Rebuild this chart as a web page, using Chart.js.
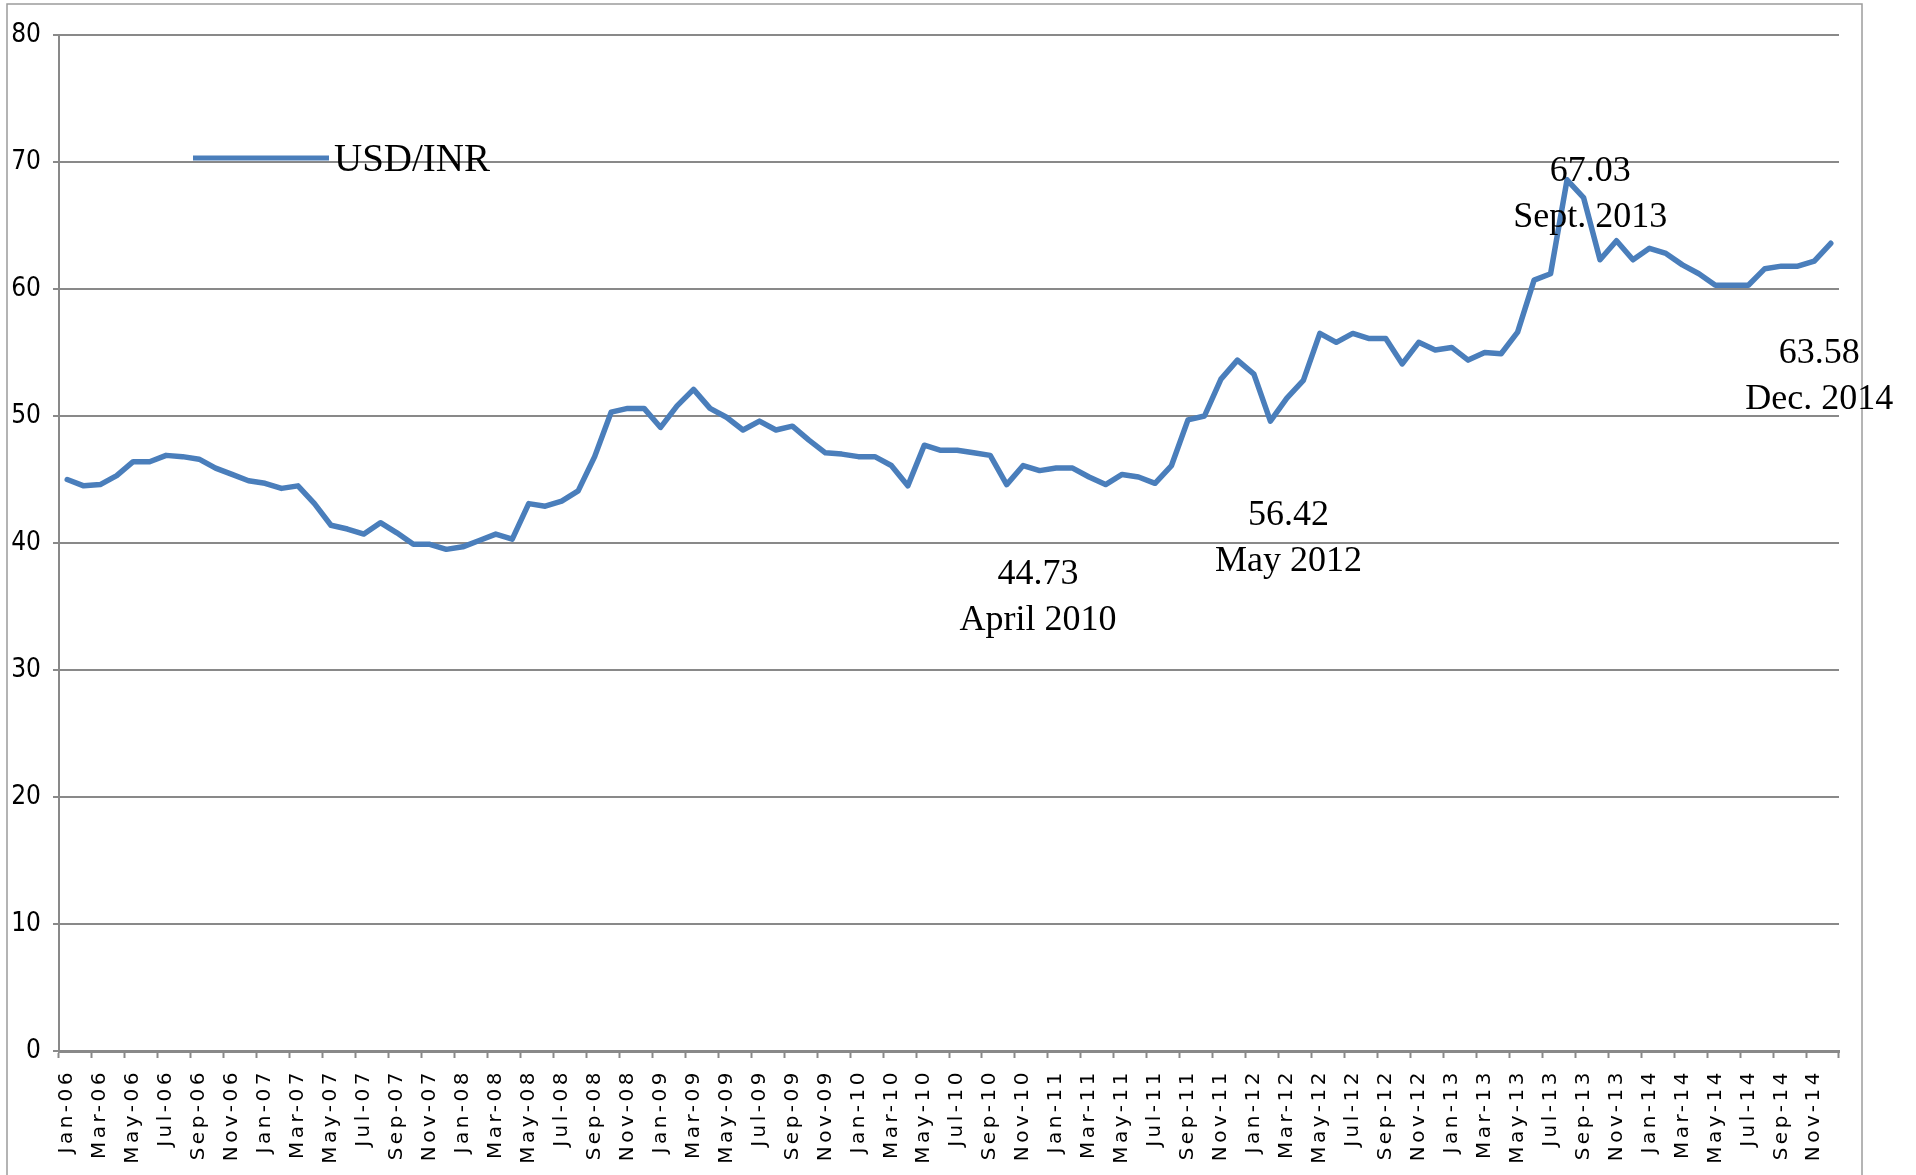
<!DOCTYPE html>
<html>
<head>
<meta charset="utf-8">
<script src="https://cdn.jsdelivr.net/npm/chart.js@4.4.1/dist/chart.umd.min.js"></script>
<style>
  html, body { margin: 0; padding: 0; background: #fff; }
  #chartBox { width: 1916px; height: 1175px; position: relative; }
</style>
</head>
<body>
<div id="chartBox"><canvas id="usdInrChart"></canvas></div>
<script>
// months and years for the category axis
const monthNames = ["Jan", "Feb", "Mar", "Apr", "May", "Jun", "Jul", "Aug", "Sep", "Oct", "Nov", "Dec"];
const yearSuffixes = ["06", "07", "08", "09", "10", "11", "12", "13", "14"];

// monthly USD/INR
const usdInr2006 = [45.0, 44.5, 44.6, 45.3, 46.4, 46.4, 46.9, 46.8, 46.6, 45.9, 45.4, 44.9];
const usdInr2007 = [44.7, 44.3, 44.5, 43.1, 41.4, 41.1, 40.7, 41.6, 40.8, 39.9, 39.9, 39.5];
const usdInr2008 = [39.7, 40.2, 40.7, 40.3, 43.1, 42.9, 43.3, 44.1, 46.8, 50.3, 50.6, 50.6];
const usdInr2009 = [49.1, 50.8, 52.1, 50.6, 49.9, 48.9, 49.6, 48.9, 49.2, 48.1, 47.1, 47.0];
const usdInr2010 = [46.8, 46.8, 46.1, 44.5, 47.7, 47.3, 47.3, 47.1, 46.9, 44.6, 46.1, 45.7];
const usdInr2011 = [45.9, 45.9, 45.2, 44.6, 45.4, 45.2, 44.7, 46.1, 49.7, 50.0, 52.9, 54.4];
const usdInr2012 = [53.3, 49.6, 51.4, 52.8, 56.5, 55.8, 56.5, 56.1, 56.1, 54.1, 55.8, 55.2];
const usdInr2013 = [55.4, 54.4, 55.0, 54.9, 56.6, 60.7, 61.2, 68.6, 67.2, 62.3, 63.8, 62.3];
const usdInr2014 = [63.2, 62.8, 61.9, 61.2, 60.3, 60.3, 60.3, 61.6, 61.8, 61.8, 62.2, 63.6];

const yTickValues = [0, 10, 20, 30, 40, 50, 60, 70, 80];

// text notes: lines, and where they sit (category index, value of first baseline)
const noteLines = [["67.03", "Sept. 2013"], ["63.58", "Dec. 2014"], ["56.42", "May 2012"], ["44.73", "April 2010"]];
const noteAnchors = [[92.4, 68.5], [106.3, 54.2], [74.1, 41.4], [58.9, 36.8]];

const labels = [];
yearSuffixes.forEach(y => monthNames.forEach(m => labels.push(m + "-" + y)));
const usdInr = [].concat(usdInr2006, usdInr2007, usdInr2008, usdInr2009, usdInr2010,
  usdInr2011, usdInr2012, usdInr2013, usdInr2014);

const axisGray = "#898989";
const lineBlue = "#4a7ebb";

const decorPlugin = {
  id: "decor",
  beforeDraw(chart) {
    // x labels in the original are spaced out
    chart.ctx.letterSpacing = "3.5px";
  },
  beforeDatasetsDraw(chart) {
    chart.ctx.letterSpacing = "0px";
  },
  afterDraw(chart) {
    const ctx = chart.ctx;
    const area = chart.chartArea;
    const xs = chart.scales.x, ys = chart.scales.y;
    ctx.save();
    ctx.letterSpacing = "0px";

    // outer frame
    ctx.strokeStyle = "#9c9c9c";
    ctx.lineWidth = 1.5;
    ctx.strokeRect(7, 4, 1855, 1300);

    // legend inside the plot
    const ds = chart.data.datasets[0];
    const ly = area.top + 123;
    ctx.strokeStyle = ds.borderColor;
    ctx.lineWidth = 5;
    ctx.beginPath();
    ctx.moveTo(area.left + 134, ly);
    ctx.lineTo(area.left + 270, ly);
    ctx.stroke();
    ctx.fillStyle = "#000";
    ctx.font = '39px "Liberation Serif", serif';
    ctx.textBaseline = "alphabetic";
    ctx.textAlign = "left";
    ctx.fillText(ds.label, area.left + 275, ly + 13);

    // notes
    ctx.font = '36px "Liberation Serif", serif';
    ctx.textAlign = "center";
    noteLines.forEach((lines, k) => {
      const px = xs.getPixelForValue(noteAnchors[k][0]);
      const py = ys.getPixelForValue(noteAnchors[k][1]);
      lines.forEach((t, j) => ctx.fillText(t, px, py + j * 46));
    });
    ctx.restore();
  }
};

new Chart(document.getElementById("usdInrChart").getContext("2d"), {
  type: "line",
  data: {
    labels: labels,
    datasets: [{
      label: "USD/INR",
      data: usdInr,
      borderColor: lineBlue,
      backgroundColor: lineBlue,
      borderWidth: 5.5,
      borderJoinStyle: "round",
      borderCapStyle: "round",
      pointRadius: 0,
      tension: 0
    }]
  },
  options: {
    responsive: true,
    maintainAspectRatio: false,
    animation: false,
    layout: { padding: { left: 0, top: 35, right: 77, bottom: 0 } },
    plugins: {
      legend: { display: false },
      tooltip: { enabled: false }
    },
    scales: {
      x: {
        offset: true,
        grid: {
          offset: true,
          drawOnChartArea: false,
          drawTicks: true,
          tickLength: 7,
          tickWidth: 2,
          tickColor: ctx => (ctx.index === undefined || ctx.index % 2 === 0) ? axisGray : "rgba(0,0,0,0)"
        },
        border: { display: true, color: axisGray, width: 3 },
        ticks: {
          autoSkip: false,
          minRotation: 90,
          maxRotation: 90,
          padding: 11,
          color: "#000",
          font: { family: "DejaVu Sans", size: 20 },
          callback: function (value, index) {
            return index % 2 === 0 ? labels[index] : "";
          }
        },
        afterFit(scale) { scale.height = 124; }
      },
      y: {
        min: yTickValues[0],
        max: yTickValues[yTickValues.length - 1],
        grid: {
          color: axisGray,
          lineWidth: 2,
          drawTicks: true,
          tickLength: 6,
          tickColor: axisGray
        },
        border: { display: true, color: axisGray, width: 2 },
        ticks: {
          stepSize: yTickValues[1] - yTickValues[0],
          padding: 12,
          z: 1,
          color: "#000",
          // "condensed" lands in the font-stretch slot of the canvas font string
          font: { family: '"Liberation Sans Narrow", "DejaVu Sans Condensed", "DejaVu Sans", sans-serif', size: 26, weight: "condensed" }
        },
        afterFit(scale) { scale.width = 59; }
      }
    }
  },
  plugins: [decorPlugin]
});
</script>
</body>
</html>
